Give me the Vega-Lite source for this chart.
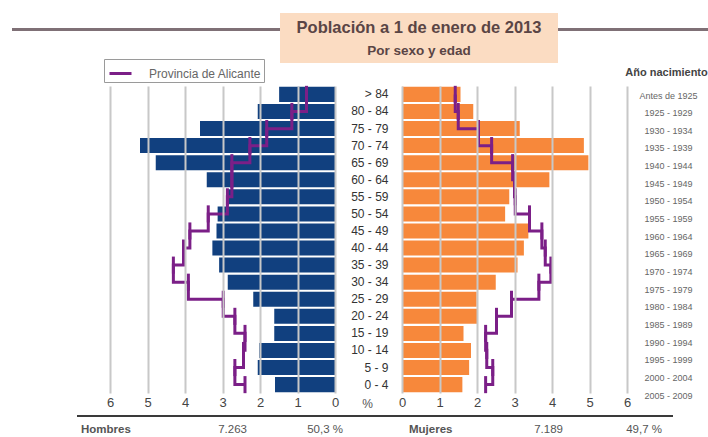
{
  "$schema": "https://vega.github.io/schema/vega-lite/v6.json",
  "padding": {"left": 0, "top": 13, "right": 0, "bottom": 0},
  "background": "white",
  "config": {"view": {"stroke": null}, "font": "Liberation Sans"},
  "datasets": {
    "piramide": [
      {"edad": "> 84", "nac": "Antes de 1925", "h": 1.49, "m": 1.56, "ph": 0.76, "pm": 1.42},
      {"edad": "80 - 84", "nac": "1925 - 1929", "h": 2.06, "m": 1.90, "ph": 1.15, "pm": 1.50},
      {"edad": "75 - 79", "nac": "1930 - 1934", "h": 3.60, "m": 3.14, "ph": 1.82, "pm": 2.04},
      {"edad": "70 - 74", "nac": "1935 - 1939", "h": 5.20, "m": 4.85, "ph": 2.27, "pm": 2.39},
      {"edad": "65 - 69", "nac": "1940 - 1944", "h": 4.78, "m": 4.97, "ph": 2.75, "pm": 2.95},
      {"edad": "60 - 64", "nac": "1945 - 1949", "h": 3.42, "m": 3.93, "ph": 2.75, "pm": 3.00},
      {"edad": "55 - 59", "nac": "1950 - 1954", "h": 2.89, "m": 2.86, "ph": 2.87, "pm": 3.02},
      {"edad": "50 - 54", "nac": "1955 - 1959", "h": 3.13, "m": 2.75, "ph": 3.38, "pm": 3.40},
      {"edad": "45 - 49", "nac": "1960 - 1964", "h": 3.16, "m": 3.37, "ph": 3.87, "pm": 3.73},
      {"edad": "40 - 44", "nac": "1965 - 1969", "h": 3.27, "m": 3.25, "ph": 4.04, "pm": 3.82},
      {"edad": "35 - 39", "nac": "1970 - 1974", "h": 3.09, "m": 3.08, "ph": 4.31, "pm": 3.97},
      {"edad": "30 - 34", "nac": "1975 - 1979", "h": 2.86, "m": 2.50, "ph": 3.91, "pm": 3.65},
      {"edad": "25 - 29", "nac": "1980 - 1984", "h": 2.18, "m": 1.99, "ph": 2.98, "pm": 2.92},
      {"edad": "20 - 24", "nac": "1985 - 1989", "h": 1.62, "m": 2.00, "ph": 2.67, "pm": 2.52},
      {"edad": "15 - 19", "nac": "1990 - 1994", "h": 1.62, "m": 1.64, "ph": 2.40, "pm": 2.23},
      {"edad": "10 - 14", "nac": "1995 - 1999", "h": 2.02, "m": 1.84, "ph": 2.44, "pm": 2.26},
      {"edad": "5 - 9", "nac": "2000 - 2004", "h": 2.06, "m": 1.79, "ph": 2.67, "pm": 2.42},
      {"edad": "0 - 4", "nac": "2005 - 2009", "h": 1.60, "m": 1.61, "ph": 2.40, "pm": 2.23}
    ],
    "resumen": [
      {"sexo": "Hombres", "total": "7.263", "pct": "50,3 %"},
      {"sexo": "Mujeres", "total": "7.189", "pct": "49,7 %"}
    ],
    "titulo": [
      {"titulo": "Población a 1 de enero de 2013", "subtitulo": "Por sexo y edad"}
    ]
  },
  "spacing": 3,
  "vconcat": [
    {
      "spacing": 0,
      "hconcat": [
        {"width": 12, "height": 1, "data": {"values": []}, "mark": "point", "encoding": {}},
        {
          "spacing": 0,
          "vconcat": [
            {"width": 268, "height": 15, "data": {"values": []}, "mark": "point", "encoding": {}},
            {"width": 268, "height": 3, "view": {"fill": "#7f7076", "stroke": null}, "data": {"values": []}, "mark": "point", "encoding": {}}
          ]
        },
        {
          "width": 278,
          "height": 50,
          "view": {"fill": "#fbdcc2", "stroke": null},
          "data": {"name": "titulo"},
          "layer": [
            {"mark": {"type": "text", "font": "Liberation Sans", "fontSize": 16.5, "fontWeight": "bold", "color": "#5a4545", "baseline": "alphabetic", "dy": -5}, "encoding": {"text": {"field": "titulo"}}},
            {"mark": {"type": "text", "font": "Liberation Sans", "fontSize": 13.5, "fontWeight": "bold", "color": "#5a4545", "baseline": "alphabetic", "dy": 17}, "encoding": {"text": {"field": "subtitulo"}}}
          ]
        },
        {
          "spacing": 0,
          "vconcat": [
            {"width": 150, "height": 15, "data": {"values": []}, "mark": "point", "encoding": {}},
            {"width": 150, "height": 3, "view": {"fill": "#7f7076", "stroke": null}, "data": {"values": []}, "mark": "point", "encoding": {}}
          ]
        }
      ]
    },
    {
      "width": 708,
      "height": 307,
      "data": {"name": "piramide"},
      "resolve": {"scale": {"x": "independent", "y": "independent"}},
      "layer": [
        {
          "mark": {"type": "bar", "color": "#07387a", "opacity": 0.96},
          "encoding": {
            "x": {"field": "h", "type": "quantitative", "scale": {"domain": [0, 6], "range": [335, 110], "nice": false, "zero": true},
              "axis": {"orient": "bottom", "values": [0, 1, 2, 3, 4, 5, 6], "format": "d", "grid": true, "gridColor": "#c8c8c8", "gridWidth": 2, "gridOpacity": 1, "zindex": -1, "domain": false, "ticks": false, "tickSize": 0, "labelPadding": 3, "labelFontSize": 13, "labelColor": "#444", "labelFlush": false, "labelOverlap": false, "title": "%", "titleX": 367, "titleY": 10, "titleAlign": "center", "titleBaseline": "middle", "titleFontWeight": "normal", "titleFontSize": 12, "titleColor": "#555"}},
            "y": {"field": "edad", "type": "nominal", "sort": null, "scale": {"paddingInner": 0.12, "paddingOuter": 0.05},
              "axis": {"orient": "left", "offset": -388, "domain": false, "ticks": false, "tickSize": 0, "labelPadding": 0, "labelFontSize": 12, "labelColor": "#333", "labelAlign": "right", "labelBaseline": "middle", "title": null, "grid": false}}
          }
        },
        {
          "mark": {"type": "line", "interpolate": "step-before", "strokeWidth": 3},
          "encoding": {
            "x": {"field": "ph", "type": "quantitative", "scale": {"domain": [0, 6], "range": [335, 110], "nice": false, "zero": true}, "axis": null},
            "y": {"field": "edad", "type": "nominal", "sort": null, "bandPosition": -0.068, "scale": {"paddingInner": 0.12, "paddingOuter": 0.05}, "axis": null},
            "stroke": {"datum": "Provincia de Alicante", "scale": {"range": ["#7b1f87"]},
              "legend": {"orient": "none", "legendX": 104, "legendY": 46, "title": null, "fillColor": "white", "strokeColor": "#9a9a9a", "padding": 2, "symbolType": "stroke", "symbolSize": 484, "symbolStrokeWidth": 3, "symbolOffset": 2, "labelFontSize": 12, "labelColor": "#666", "labelOffset": 16, "cornerRadius": 0}},
            "order": {"value": null}
          }
        },
        {
          "mark": {"type": "tick", "color": "#7b1f87", "opacity": 1, "thickness": 3, "size": 17.07},
          "encoding": {
            "x": {"field": "ph", "type": "quantitative", "scale": {"domain": [0, 6], "range": [335, 110], "nice": false, "zero": true}, "axis": null},
            "y": {"field": "edad", "type": "nominal", "sort": null, "scale": {"paddingInner": 0.12, "paddingOuter": 0.05}, "axis": null}
          }
        },
        {
          "mark": {"type": "bar", "color": "#f78333", "opacity": 0.96},
          "encoding": {
            "x": {"field": "m", "type": "quantitative", "scale": {"domain": [0, 6], "range": [402, 627], "nice": false, "zero": true},
              "axis": {"orient": "bottom", "values": [0, 1, 2, 3, 4, 5, 6], "format": "d", "grid": true, "gridColor": "#c8c8c8", "gridWidth": 2, "gridOpacity": 1, "zindex": -1, "domain": false, "ticks": false, "tickSize": 0, "labelPadding": 3, "labelFontSize": 13, "labelColor": "#444", "labelFlush": false, "labelOverlap": false, "title": null}},
            "y": {"field": "edad", "type": "nominal", "sort": null, "scale": {"paddingInner": 0.12, "paddingOuter": 0.05}, "axis": null}
          }
        },
        {
          "mark": {"type": "line", "interpolate": "step-before", "strokeWidth": 3},
          "encoding": {
            "x": {"field": "pm", "type": "quantitative", "scale": {"domain": [0, 6], "range": [402, 627], "nice": false, "zero": true}, "axis": null},
            "y": {"field": "edad", "type": "nominal", "sort": null, "bandPosition": -0.068, "scale": {"paddingInner": 0.12, "paddingOuter": 0.05}, "axis": null},
            "stroke": {"datum": "Provincia de Alicante", "scale": {"range": ["#7b1f87"]},
              "legend": {"orient": "none", "legendX": 104, "legendY": 46, "title": null, "fillColor": "white", "strokeColor": "#9a9a9a", "padding": 2, "symbolType": "stroke", "symbolSize": 484, "symbolStrokeWidth": 3, "symbolOffset": 2, "labelFontSize": 12, "labelColor": "#666", "labelOffset": 16, "cornerRadius": 0}},
            "order": {"value": null}
          }
        },
        {
          "mark": {"type": "tick", "color": "#7b1f87", "opacity": 1, "thickness": 3, "size": 17.07},
          "encoding": {
            "x": {"field": "pm", "type": "quantitative", "scale": {"domain": [0, 6], "range": [402, 627], "nice": false, "zero": true}, "axis": null},
            "y": {"field": "edad", "type": "nominal", "sort": null, "scale": {"paddingInner": 0.12, "paddingOuter": 0.05}, "axis": null}
          }
        },
        {
          "mark": {"type": "tick", "opacity": 0},
          "encoding": {
            "y": {"field": "nac", "type": "nominal", "sort": null, "scale": {"type": "point", "range": [9, 309], "padding": 0},
              "axis": {"orient": "right", "offset": -40, "domain": false, "ticks": false, "tickSize": 0, "labelPadding": 0, "labelAlign": "center", "labelBaseline": "middle", "labelFontSize": 9, "labelColor": "#666", "grid": false, "title": "Año nacimiento", "titleAngle": 0, "titleX": -2, "titleY": -14, "titleAlign": "center", "titleBaseline": "middle", "titleFontSize": 11, "titleFontWeight": "bold", "titleColor": "#444"}}
          }
        }
      ]
    },
    {
      "spacing": 0,
      "hconcat": [
        {"width": 77, "height": 1, "data": {"values": []}, "mark": "point", "encoding": {}},
        {
          "spacing": 0,
          "vconcat": [
            {"width": 596, "height": 3, "data": {"values": []}, "mark": "point", "encoding": {}},
            {"width": 596, "height": 2, "view": {"fill": "#3a3a3a", "stroke": null}, "data": {"values": []}, "mark": "point", "encoding": {}},
            {
              "spacing": 0,
              "hconcat": [
                {
                  "width": 318, "height": 20,
                  "data": {"name": "resumen"},
                  "transform": [{"filter": "datum.sexo === 'Hombres'"}],
                  "layer": [
                    {"mark": {"type": "text", "align": "left", "dx": -155, "dy": 3, "fontWeight": "bold", "fontSize": 11.5, "color": "#555"}, "encoding": {"text": {"field": "sexo"}}},
                    {"mark": {"type": "text", "align": "right", "dx": 11, "dy": 3, "fontSize": 11.5, "color": "#555"}, "encoding": {"text": {"field": "total"}}},
                    {"mark": {"type": "text", "align": "right", "dx": 107, "dy": 3, "fontSize": 11.5, "color": "#555"}, "encoding": {"text": {"field": "pct"}}}
                  ]
                },
                {
                  "width": 278, "height": 20,
                  "data": {"name": "resumen"},
                  "transform": [{"filter": "datum.sexo === 'Mujeres'"}],
                  "layer": [
                    {"mark": {"type": "text", "align": "left", "dx": -125, "dy": 3, "fontWeight": "bold", "fontSize": 11.5, "color": "#555"}, "encoding": {"text": {"field": "sexo"}}},
                    {"mark": {"type": "text", "align": "right", "dx": 29, "dy": 3, "fontSize": 11.5, "color": "#555"}, "encoding": {"text": {"field": "total"}}},
                    {"mark": {"type": "text", "align": "right", "dx": 128, "dy": 3, "fontSize": 11.5, "color": "#555"}, "encoding": {"text": {"field": "pct"}}}
                  ]
                }
              ]
            },
            {"width": 596, "height": 1, "view": {"fill": "#cfcfcf", "stroke": null}, "data": {"values": []}, "mark": "point", "encoding": {}}
          ]
        }
      ]
    }
  ]
}
